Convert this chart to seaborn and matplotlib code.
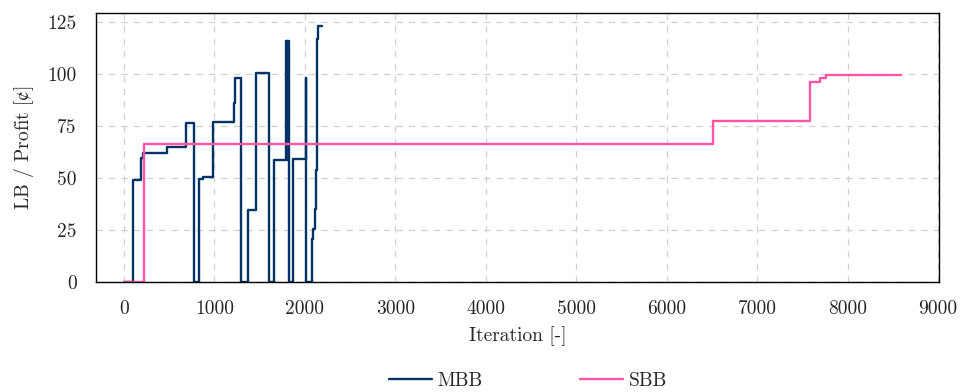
import matplotlib
matplotlib.use("Agg")
import matplotlib.pyplot as plt
import seaborn as sns
import pandas as pd

# Step traces (value holds from each iteration on)
mbb_iter = [0, 96, 184, 206, 479, 686, 777, 833, 870, 981, 1216, 1231, 1290,
            1375, 1460, 1607, 1659, 1790, 1797, 1803, 1810, 1815, 1821,
            1865, 2012, 2016, 2075, 2090, 2112, 2123, 2137, 2145, 2186]
mbb_val = [0, 49.2, 59.8, 62.2, 65.0, 76.3, 0, 49.7, 50.3, 77.0, 86.0, 98.3, 0,
           34.8, 100.8, 0, 58.5, 116.0, 58.5, 116.0, 58.5, 116.0, 0,
           59.2, 98.4, 0, 20.5, 25.5, 35.0, 53.8, 117.0, 123.2, 123.2]

sbb_iter = [0, 225, 6513, 7588, 7696, 7762, 8588]
sbb_val = [0, 66.3, 77.7, 96.3, 98.2, 99.4, 99.4]

mbb = pd.DataFrame({"iteration": mbb_iter, "value": mbb_val})
sbb = pd.DataFrame({"iteration": sbb_iter, "value": sbb_val})

sns.set_style("white")
plt.rcParams["font.family"] = ["cmr10", "DejaVu Serif"]
plt.rcParams["mathtext.fontset"] = "stix"
plt.rcParams["axes.formatter.use_mathtext"] = False

fig = plt.figure(figsize=(9.6, 3.92), dpi=100)
ax = fig.add_axes([0.1, 0.281, 0.878, 0.686])

sns.lineplot(data=mbb, x="iteration", y="value", ax=ax, color="#003366",
             linewidth=1.7, drawstyle="steps-post", sort=False,
             estimator=None, label="MBB")
sns.lineplot(data=sbb, x="iteration", y="value", ax=ax, color="#ff55a5",
             linewidth=1.7, drawstyle="steps-post", sort=False,
             estimator=None, label="SBB")

ax.set_xlim(-310, 9010)
ax.set_ylim(0, 129.5)
ax.set_xticks(range(0, 9001, 1000))
ax.set_yticks(range(0, 126, 25))
ax.grid(True, color="#d0d0d0", linestyle=(0, (5, 5)), linewidth=0.9)
for s in ax.spines.values():
    s.set_color("black")
    s.set_linewidth(1.0)
ax.tick_params(axis="both", direction="out", length=4, color="#888888",
               labelsize=14)
ax.tick_params(axis="x", pad=9)
ax.tick_params(axis="y", pad=10)
ax.set_xlabel("Iteration [-]", fontsize=14, labelpad=6)
ax.set_ylabel("LB / Profit [$\\mathrm{¢}$]", fontsize=14, labelpad=8)

ax.legend(loc="center", bbox_to_anchor=(0.55, 0.028),
          bbox_transform=fig.transFigure, ncol=2, frameon=False,
          fontsize=14, columnspacing=5.0, handlelength=2.2,
          handletextpad=0.3)

fig.savefig("out.png", dpi=100)
